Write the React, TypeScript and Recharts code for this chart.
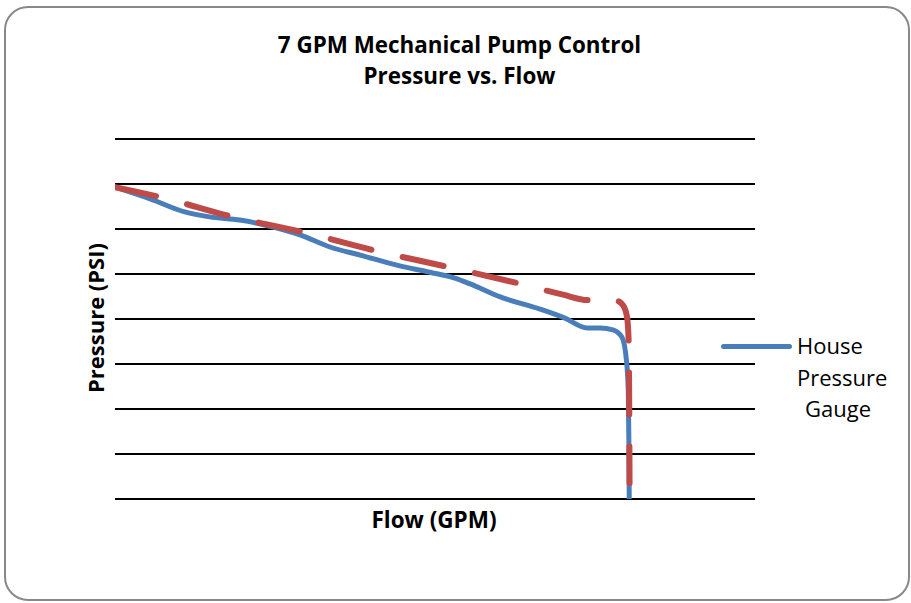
import React from "react";
import { LineChart, Line, XAxis, YAxis, CartesianGrid } from "recharts";

const title1 = "7 GPM Mechanical Pump Control";
const title2 = "Pressure vs. Flow";
const xLabel = "Flow (GPM)";
const yLabel = "Pressure (PSI)";
const legendLabel = ["House", "Pressure", "Gauge"];

const yTicks = [0, 10, 20, 30, 40, 50, 60, 70, 80];

const houseFlow = [0, 0.55, 1.09, 1.48, 1.95, 2.34, 2.89, 3.36, 3.83, 4.45, 4.92, 5.31, 5.55, 6.02, 6.64, 7.03, 7.38, 7.58, 7.78, 7.92, 7.99, 8.02, 8.03, 8.035];
const housePsi = [69.3, 66.7, 63.8, 62.7, 62.0, 60.9, 58.7, 56.0, 54.2, 51.8, 50.4, 49.1, 47.8, 44.9, 42.2, 40.2, 38.0, 38.0, 37.6, 36.0, 31.0, 24.0, 12.0, 0];

const pumpFlow = [0, 0.7, 1.84, 2.94, 4.03, 5.19, 6.28, 7.0, 7.39, 7.66, 7.81, 7.94, 8.0, 8.025, 8.035, 8.04];
const pumpPsi = [69.3, 67.1, 62.7, 59.3, 55.3, 51.6, 48.0, 45.4, 44.2, 44.7, 44.3, 43.0, 40.5, 35.5, 20.0, 3.5];

const houseData = houseFlow.map((f, i) => ({ flow: f, psi: housePsi[i] }));
const pumpData = pumpFlow.map((f, i) => ({ flow: f, psi: pumpPsi[i] }));

const BLUE = "#4A7EBB";
const RED = "#BE4B48";
const FONT = "'Open Sans', sans-serif";

export default function App() {
  return (
    <div style={{ position: "absolute", left: 0, top: 0, width: 911, height: 603, background: "#fff", overflow: "hidden", fontFamily: FONT }}>
      <div style={{ position: "absolute", left: 4, top: 6, width: 906, height: 595, border: "2px solid #888", borderRadius: 24, boxSizing: "border-box" }} />
      <LineChart width={911} height={603} margin={{ top: 139, right: 156, bottom: 104, left: 115 }} style={{ position: "absolute", left: 0, top: 0 }}>
        <CartesianGrid vertical={false} stroke="#000" strokeWidth={2} horizontalValues={yTicks} />
        <XAxis type="number" dataKey="flow" domain={[0, 10]} hide height={0} allowDataOverflow />
        <YAxis type="number" dataKey="psi" domain={[0, 80]} ticks={yTicks} width={0} tick={{ fontSize: 0 }} axisLine={false} tickLine={false} />
        <Line data={houseData} dataKey="psi" type="monotone" stroke={BLUE} strokeWidth={5} dot={false} isAnimationActive={false} />
        <Line data={pumpData} dataKey="psi" type="monotone" stroke={RED} strokeWidth={6} strokeDasharray="42 32" strokeLinecap="round" dot={false} isAnimationActive={false} />
      </LineChart>
      <div style={{ position: "absolute", left: 0, width: 911, top: 29, textAlign: "center", fontWeight: 700, fontSize: 22.4, lineHeight: "31px", color: "#000", paddingLeft: 8, boxSizing: "border-box" }}>
        <div>{title1}</div>
        <div>{title2}</div>
      </div>
      <div style={{ position: "absolute", left: 434 - 100, width: 200, top: 504, textAlign: "center", fontWeight: 700, fontSize: 22.5, color: "#000" }}>{xLabel}</div>
      <div style={{ position: "absolute", left: 95 - 100, top: 318 - 15, width: 200, height: 30, lineHeight: "30px", textAlign: "center", fontWeight: 700, fontSize: 22, color: "#000", transform: "rotate(-90deg)" }}>{yLabel}</div>
      <div style={{ position: "absolute", left: 721, top: 344, width: 71, height: 5, borderRadius: 3, background: BLUE }} />
      <div style={{ position: "absolute", left: 797, top: 330, fontSize: 22, lineHeight: "31.5px", color: "#000", whiteSpace: "nowrap" }}>
        <div>{legendLabel[0]}</div>
        <div>{legendLabel[1]}</div>
        <div style={{ paddingLeft: 8 }}>{legendLabel[2]}</div>
      </div>
    </div>
  );
}
